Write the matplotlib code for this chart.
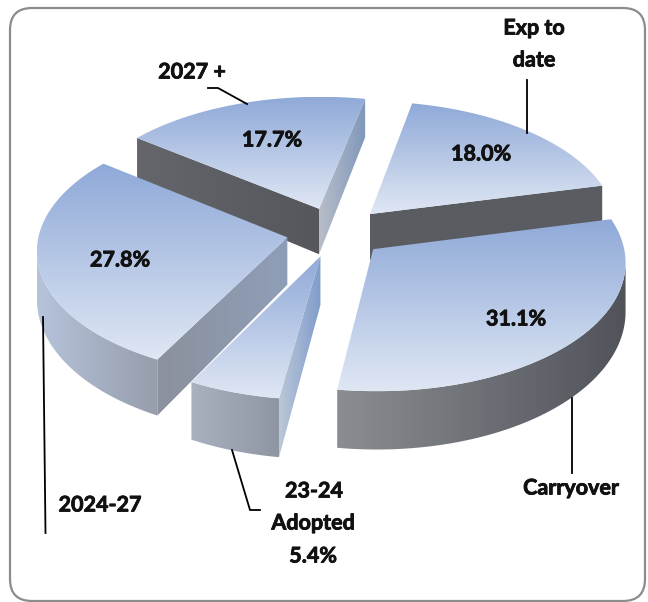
import matplotlib
matplotlib.use('Agg')
import matplotlib.pyplot as plt
import matplotlib.patheffects as pe
import numpy as np
from matplotlib.colors import LinearSegmentedColormap
from matplotlib.patches import FancyBboxPatch, Polygon

names = ['Exp to', 'date', 'Carryover', '23-24', 'Adopted', '2024-27', '2027 +']
shares = [18.0, 31.1, 5.4, 27.8, 17.7]

start_angle = 11.5
explode = 0.2
cx, cy = 336, 232
rx, ry = 248, 126
persp = 0.09
height = 47

top_colors = ('#8fa9d8', '#dfe7f4')
# left, right colours of the faces: rim, cut at slice start, cut at slice end
rim_colors = [None, ('#8a8d91', '#50535a'), ('#a9b1c0', '#8f96a3'), ('#b6c3db', '#969dab'), None]
start_cut = [None, None, ('#bcc7d8', '#7f9ccb'), ('#8b919d', '#8f9eb8'), ('#64666b', '#55575c')]
end_cut = [('#5a5c61', '#5a5c61'), None, None, None, ('#b8bec8', '#7f97bc')]
draw_order = [4, 0, 3, 2, 1]

plt.rcParams['font.family'] = ['Lato', 'DejaVu Sans']

fig = plt.figure(figsize=(6.48, 6.02), dpi=100)
ax = fig.add_axes([0, 0, 1, 1])
ax.set_xlim(0, 648)
ax.set_ylim(602, 0)
ax.axis('off')

ax.add_patch(FancyBboxPatch((10, 8), 635, 593, boxstyle='round,pad=0,rounding_size=22',
                            fc='white', ec='#8c8c8c', lw=1.6, zorder=0))


def project(x, y):
    w = 1 + persp * y
    return cx + rx * x / w, cy - ry * y / w


def drop(y):
    return height / (1 + persp * y) ** 2


def gradient_face(pts, c0, c1, vertical, z):
    pts = np.array(pts)
    poly = Polygon(pts, closed=True, fc='none', ec='none')
    ax.add_patch(poly)
    ramp = np.linspace(0, 1, 256)
    ramp = ramp[:, None] if vertical else ramp[None, :]
    cmap = LinearSegmentedColormap.from_list('face', [c0, c1])
    x0, x1 = pts[:, 0].min(), pts[:, 0].max()
    y0, y1 = pts[:, 1].min(), pts[:, 1].max()
    im = ax.imshow(ramp, cmap=cmap, extent=(x0, x1, y1, y0), aspect='auto', zorder=z,
                   interpolation='bilinear', origin='upper')
    im.set_clip_path(poly)


edges = start_angle + np.cumsum([0] + shares) * 3.6
z = 1
for i in draw_order:
    a0, a1 = np.radians(edges[i]), np.radians(edges[i + 1])
    mid = (a0 + a1) / 2
    ox, oy = explode * np.sin(mid), explode * np.cos(mid)
    t = np.linspace(a0, a1, 120)
    rim_x, rim_y = ox + np.sin(t), oy + np.cos(t)
    sx, sy = project(rim_x, rim_y)
    px, py = project(ox, oy)
    low = drop(rim_y)
    low_apex = drop(oy)

    # cut faces, only where they turn towards the viewer
    if start_cut[i] is not None:
        gradient_face([(px, py), (sx[0], sy[0]), (sx[0], sy[0] + low[0]), (px, py + low_apex)],
                      start_cut[i][0], start_cut[i][1], False, z)
        z += 1
    if end_cut[i] is not None:
        gradient_face([(px, py), (sx[-1], sy[-1]), (sx[-1], sy[-1] + low[-1]), (px, py + low_apex)],
                      end_cut[i][0], end_cut[i][1], False, z)
        z += 1

    # rim: the part of the arc that runs leftwards on screen
    seen = np.where(np.gradient(sx) < 0)[0]
    if rim_colors[i] is not None and len(seen) > 1:
        up = np.column_stack([sx[seen], sy[seen]])
        down = np.column_stack([sx[seen], sy[seen] + low[seen]])[::-1]
        gradient_face(np.vstack([up, down]), rim_colors[i][0], rim_colors[i][1], False, z)
        z += 1

    top = np.vstack([[px, py], np.column_stack([sx, sy])])
    gradient_face(top, top_colors[0], top_colors[1], True, z)
    z += 1

z = 50
leaders = [([527, 527], [80, 133]),
           ([208, 218, 247], [88, 88, 104]),
           ([572, 572], [398, 473]),
           ([260, 250, 232], [510, 510, 450]),
           ([43, 45.5], [317, 533])]
for lx, ly in leaders:
    ax.plot(lx, ly, color='black', lw=1.3, zorder=z, solid_joinstyle='miter')

style = dict(fontsize=15.5, fontweight='bold', color='#111111', ha='center', va='center', zorder=z + 1,
             path_effects=[pe.withStroke(linewidth=0.6, foreground='#111111')])
pct_pos = [(481, 154), (516, 319), (313, 556), (120, 260), (272, 140)]
for v, pos in zip(shares, pct_pos):
    ax.text(pos[0], pos[1], f'{v:.1f}%', **style)

name_pos = [(534, 28), (534, 60), (571, 488), (314, 491), (313, 523), (100, 505), (192, 72)]
for name, pos in zip(names, name_pos):
    ax.text(pos[0], pos[1], name, **style)

ax.set_xlim(0, 648)
ax.set_ylim(602, 0)
fig.savefig('out.png', dpi=100)
